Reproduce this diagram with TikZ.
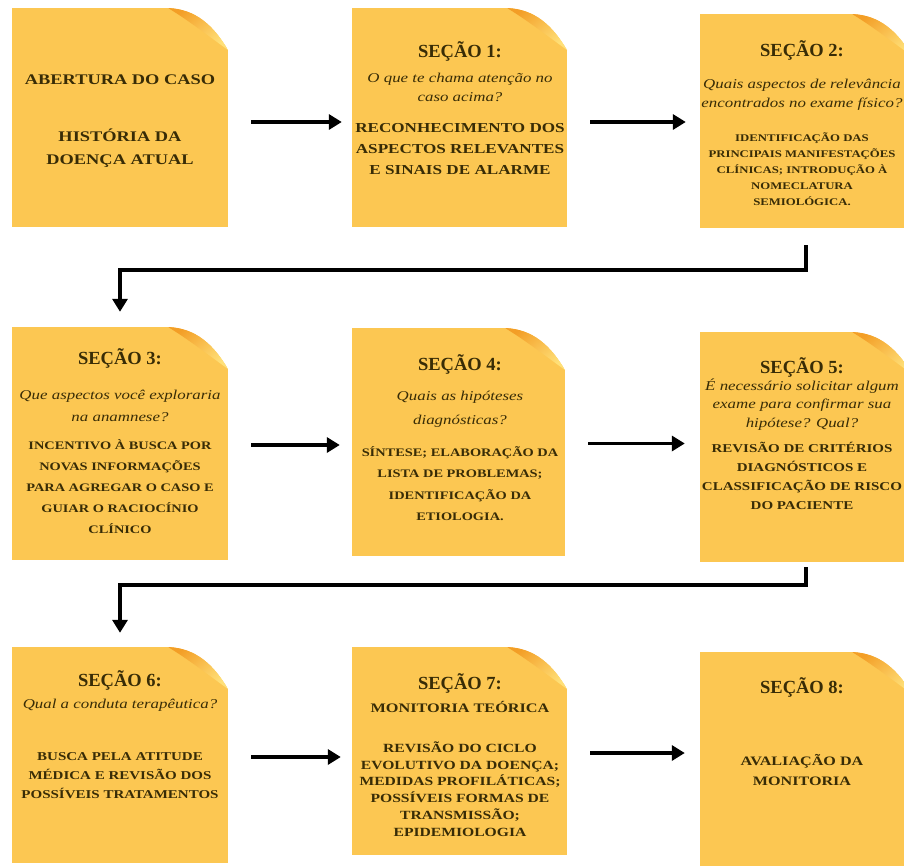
\documentclass[tikz,border=0pt]{standalone}
\usepackage{fontspec}
\setmainfont{Liberation Serif}
\newfontfamily\widefont{Liberation Serif}[FakeStretch=1.25]
\usetikzlibrary{arrows.meta,positioning}

\definecolor{notefill}{RGB}{252,199,82}
\definecolor{curldark}{RGB}{243,158,38}
\definecolor{curllight}{RGB}{255,224,120}
\definecolor{ink}{RGB}{56,44,6}

% folded corner of a note
\newcommand{\pagecurl}{%
  \coordinate (ne) at (path picture bounding box.north east);
  \fill[white] ([xshift=-60pt]ne) .. controls ([xshift=-32pt,yshift=-1pt]ne) and ([xshift=-14pt,yshift=-18pt]ne) .. ([yshift=-42pt]ne) -- (ne) -- cycle;
  \shade[left color=curldark, right color=curllight, shading angle=40]
    ([xshift=-60pt]ne) .. controls ([xshift=-32pt,yshift=-1pt]ne) and ([xshift=-14pt,yshift=-18pt]ne) .. ([yshift=-42pt]ne)
    .. controls ([xshift=-14pt,yshift=-32pt]ne) and ([xshift=-40pt,yshift=-12pt]ne) .. ([xshift=-60pt]ne) -- cycle;
}

\begin{document}
\begin{tikzpicture}[
        x=1pt, y=-1pt,
        note/.style={rectangle, fill=notefill, inner sep=0pt, path picture={\pagecurl}},
        stitle/.style={font=\bfseries\fontsize{18.5}{21}\selectfont, text=ink, inner sep=0pt},
        squest/.style={font=\widefont\itshape\fontsize{13.5}{#1}\selectfont, align=center, text=ink, inner sep=0pt},
        sbody/.style 2 args={font=\widefont\bfseries\fontsize{#1}{#2}\selectfont, align=center, text=ink, inner sep=0pt},
        flow/.style={-{Triangle[length=13pt,width=15pt]}, line width=3.5pt, black}
    ]
    \path[fill=white, use as bounding box] (0,0) rectangle (904,865);
    \clip (0,0) rectangle (904,865);

    % ==========================================
    % 1. Row 1
    % ==========================================
    \node[note, minimum width=216pt, minimum height=219pt] (b0) at (120,117.5) {};
    \node[note, minimum width=215pt, minimum height=219pt] (b1) at (459.5,117.5) {};
    \node[note, minimum width=212pt, minimum height=214pt] (b2) at (806,121) {};

    \node[sbody={14.7}{23}] (b0a) at (120,80) {ABERTURA DO CASO};
    \node[sbody={14.7}{23}] (b0b) at (120,148.5) {HISTÓRIA DA\\DOENÇA ATUAL};

    \node[stitle] (b1t) at (460,51) {SEÇÃO 1:};
    \node[squest=19] (b1q) at (460,87.5) {O que te chama atenção no\\caso acima?};
    \node[sbody={13.7}{21}] (b1d) at (460,149) {RECONHECIMENTO DOS\\ASPECTOS RELEVANTES\\E SINAIS DE ALARME};

    \node[stitle] (b2t) at (802,50) {SEÇÃO 2:};
    \node[squest=19] (b2q) at (802,94.5) {Quais aspectos de relevância\\encontrados no exame físico?};
    \node[sbody={10.2}{16}] (b2d) at (802,169) {IDENTIFICAÇÃO DAS\\PRINCIPAIS MANIFESTAÇÕES\\CLÍNICAS; INTRODUÇÃO À\\NOMECLATURA\\SEMIOLÓGICA.};

    % ==========================================
    % 2. Row 2
    % ==========================================
    \node[note, minimum width=216pt, minimum height=233pt] (b3) at (120,443.5) {};
    \node[note, minimum width=213pt, minimum height=228pt] (b4) at (458.5,442) {};
    \node[note, minimum width=212pt, minimum height=230pt] (b5) at (806,447) {};

    \node[stitle] (b3t) at (120,358) {SEÇÃO 3:};
    \node[squest=22] (b3q) at (120,406) {Que aspectos você exploraria\\na anamnese?};
    \node[sbody={11.5}{21}] (b3d) at (120,487) {INCENTIVO À BUSCA POR\\NOVAS INFORMAÇÕES\\PARA AGREGAR O CASO E\\GUIAR O RACIOCÍNIO\\CLÍNICO};

    \node[stitle] (b4t) at (460,364) {SEÇÃO 4:};
    \node[squest=24] (b4q) at (460,409) {Quais as hipóteses\\diagnósticas?};
    \node[sbody={11.5}{21.5}] (b4d) at (460,483.5) {SÍNTESE; ELABORAÇÃO DA\\LISTA DE PROBLEMAS;\\IDENTIFICAÇÃO DA\\ETIOLOGIA.};

    \node[stitle] (b5t) at (802,367) {SEÇÃO 5:};
    \node[squest=18.5] (b5q) at (802,404.5) {É necessário solicitar algum\\exame para confirmar sua\\hipótese? Qual?};
    \node[sbody={12}{19}] (b5d) at (802,475.5) {REVISÃO DE CRITÉRIOS\\DIAGNÓSTICOS E\\CLASSIFICAÇÃO DE RISCO\\DO PACIENTE};

    % ==========================================
    % 3. Row 3
    % ==========================================
    \node[note, minimum width=216pt, minimum height=216pt] (b6) at (120,755) {};
    \node[note, minimum width=215pt, minimum height=208pt] (b7) at (459.5,751) {};
    \node[note, minimum width=212pt, minimum height=220pt] (b8) at (806,762) {};

    \node[stitle] (b6t) at (120,680) {SEÇÃO 6:};
    \node[squest=19] (b6q) at (120,705) {Qual a conduta terapêutica?};
    \node[sbody={12}{19}] (b6d) at (120,776) {BUSCA PELA ATITUDE\\MÉDICA E REVISÃO DOS\\POSSÍVEIS TRATAMENTOS};

    \node[stitle] (b7t) at (460,683) {SEÇÃO 7:};
    \node[sbody={13}{17}] (b7q) at (460,707) {MONITORIA TEÓRICA};
    \node[sbody={12.5}{16.8}] (b7d) at (460,789) {REVISÃO DO CICLO\\EVOLUTIVO DA DOENÇA;\\MEDIDAS PROFILÁTICAS;\\POSSÍVEIS FORMAS DE\\TRANSMISSÃO;\\EPIDEMIOLOGIA};

    \node[stitle] (b8t) at (802,687) {SEÇÃO 8:};
    \node[sbody={12.9}{20}] (b8d) at (802,770) {AVALIAÇÃO DA\\MONITORIA};

    % ==========================================
    % 4. Arrows
    % ==========================================
    \foreach \a/\b/\dy/\s in {b0/b1/-4.5/10, b1/b2/-4.5/14, b3/b4/-1.5/12, b4/b5/-1.5/15, b6/b7/-2/11, b7/b8/-2/15} {
        \draw[flow, shorten <=23pt, shorten >=\s pt] ([yshift=\dy pt]\a.east) -- ([yshift=\dy pt]\a.east -| \b.west);
    }
    \draw[flow, shorten <=17pt, shorten >=15pt] (b2.south) -- ++(0,42) -| (b3.north);
    \draw[flow, shorten <=5pt, shorten >=14pt] (b5.south) -- ++(0,23) -| (b6.north);

\end{tikzpicture}
\end{document}
